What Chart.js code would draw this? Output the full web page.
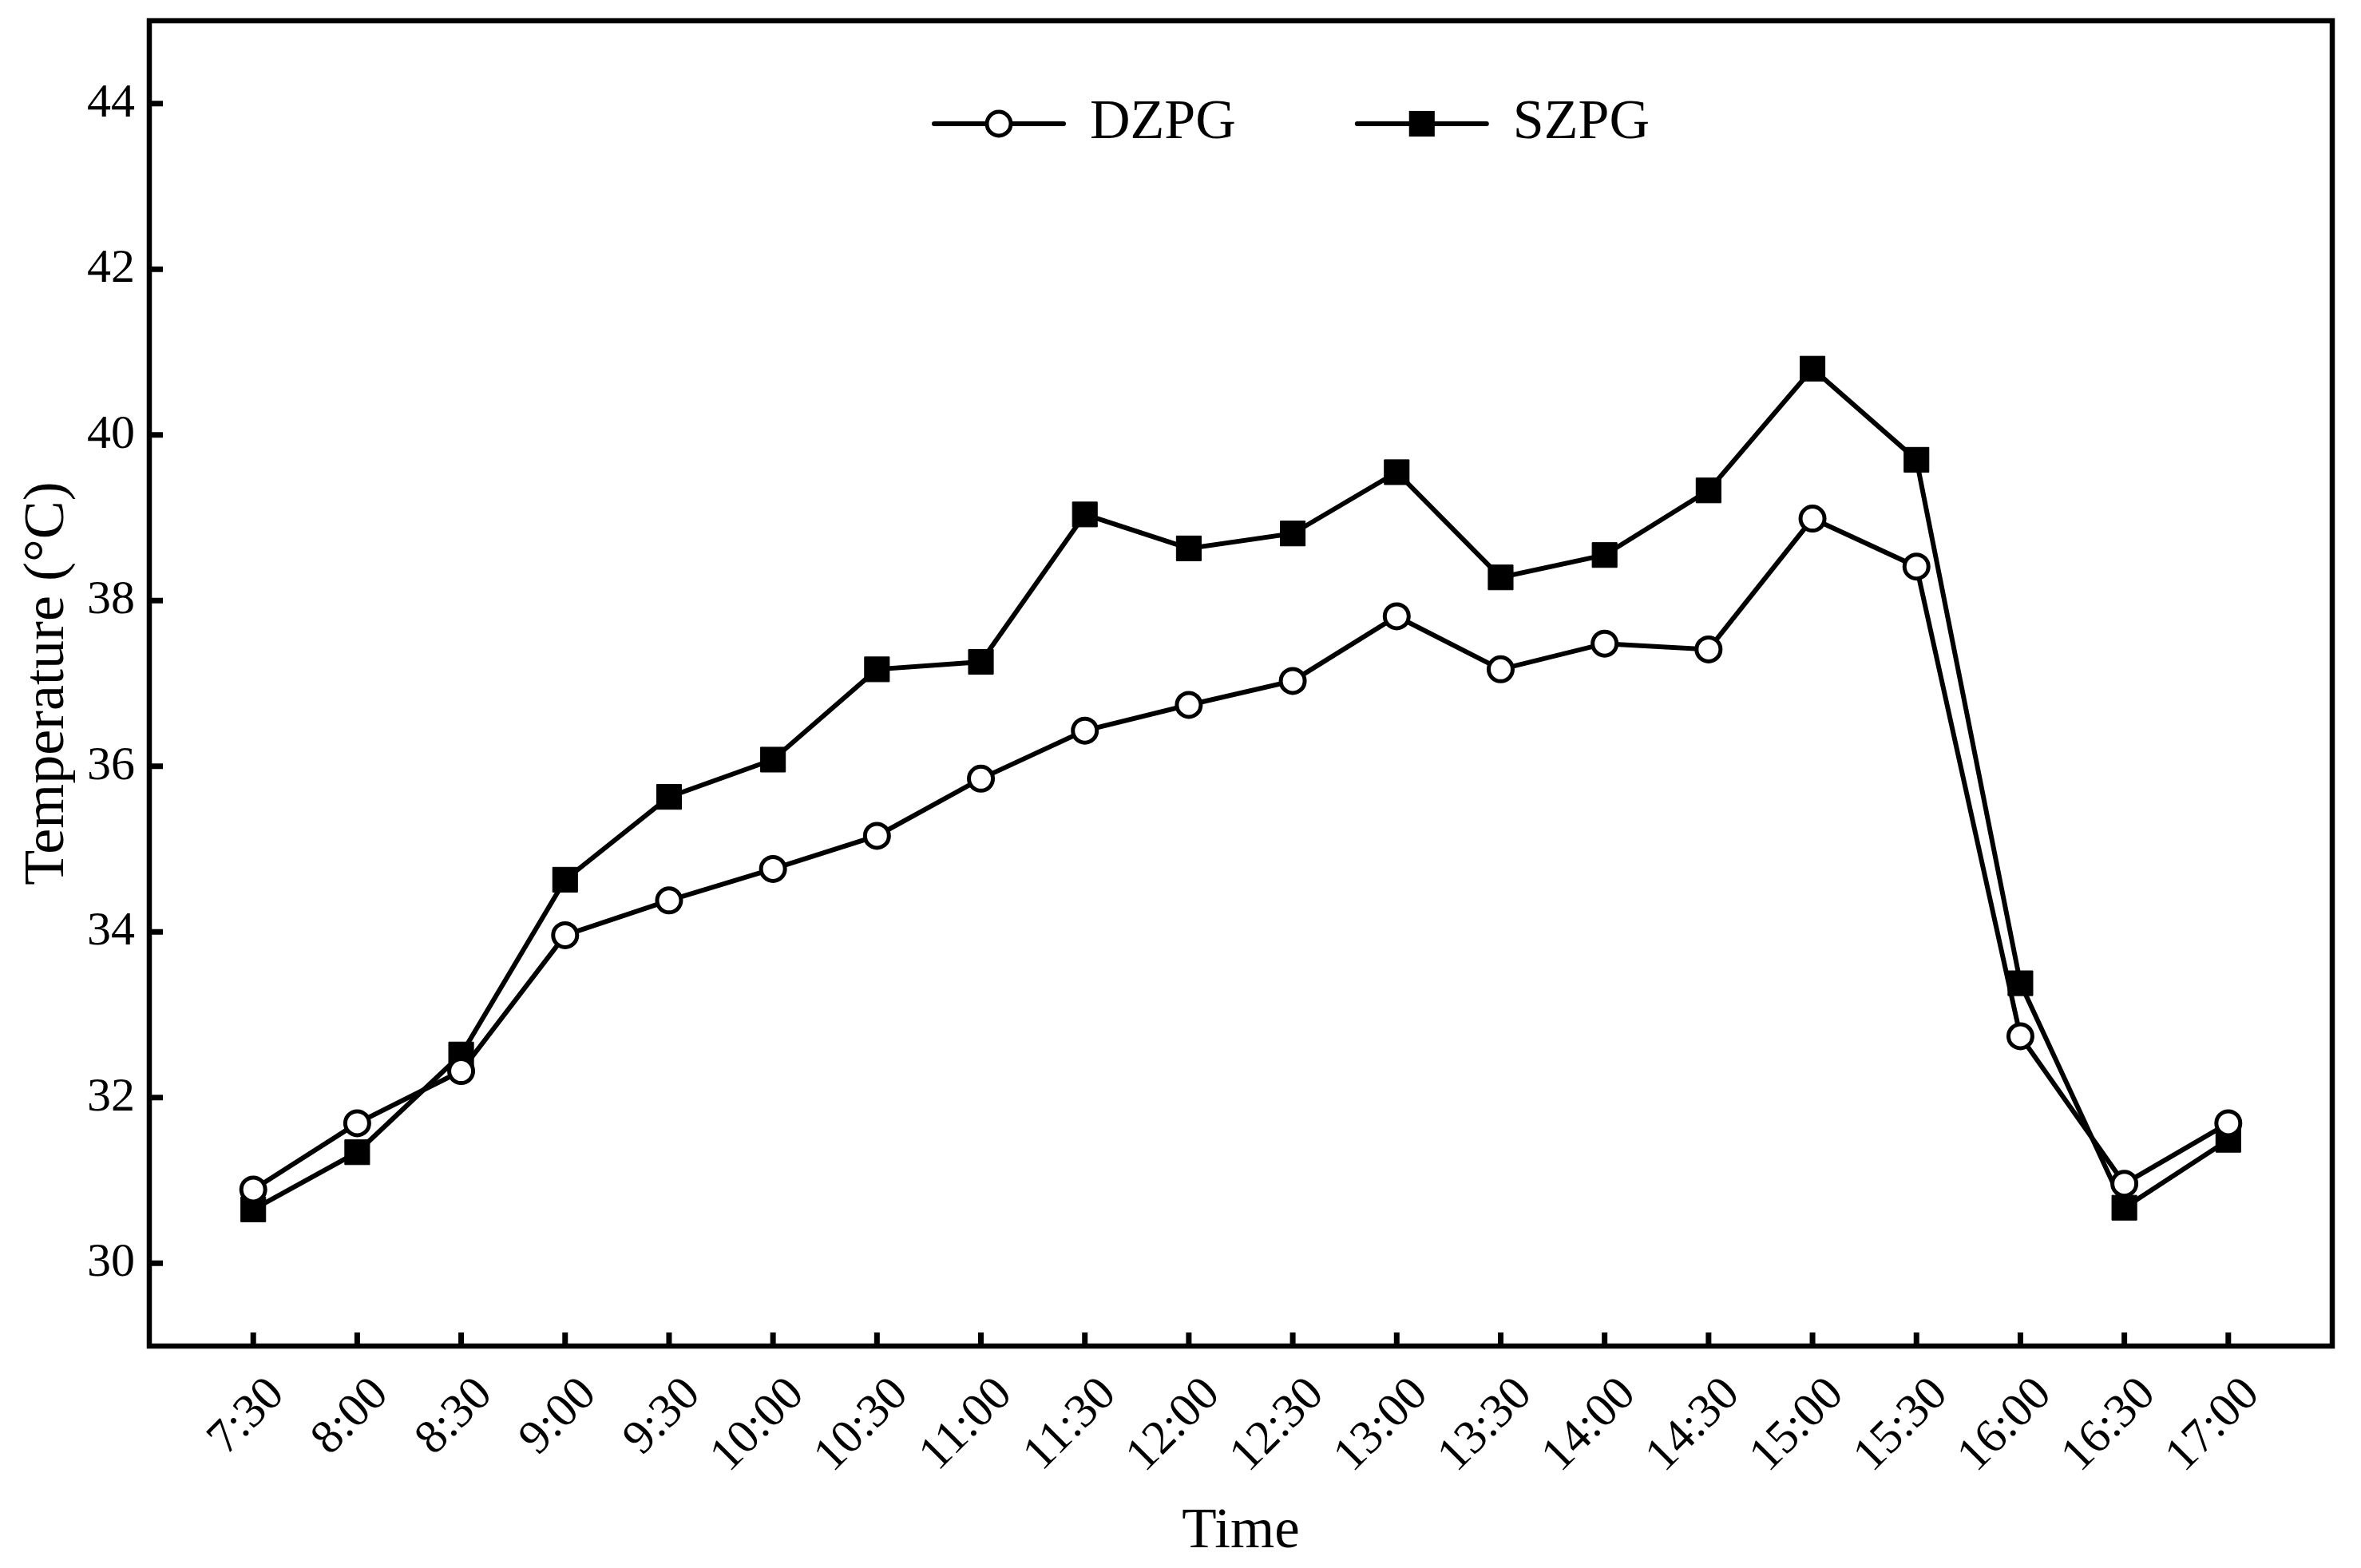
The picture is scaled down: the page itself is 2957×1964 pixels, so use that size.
<!DOCTYPE html>
<html>
<head>
<meta charset="utf-8">
<script src="https://cdn.jsdelivr.net/npm/chart.js@4.4.0/dist/chart.umd.min.js"></script>
<style>
html, body { margin: 0; padding: 0; background: #fff; }
</style>
</head>
<body>
<canvas id="myChart" width="2957" height="1964"></canvas>
<script>
// datos
var horas = ['7:30', '8:00', '8:30', '9:00', '9:30', '10:00', '10:30', '11:00', '11:30', '12:00',
             '12:30', '13:00', '13:30', '14:00', '14:30', '15:00', '15:30', '16:00', '16:30', '17:00'];
var dzpg = [30.89, 31.69, 32.32, 33.96, 34.38, 34.76, 35.16, 35.85, 36.43, 36.74,
            37.03, 37.81, 37.17, 37.48, 37.41, 38.99, 38.41, 32.74, 30.96, 31.69];
var szpg = [30.65, 31.34, 32.52, 34.63, 35.63, 36.08, 37.17, 37.26, 39.04, 38.63,
            38.81, 39.55, 38.28, 38.55, 39.33, 40.80, 39.70, 33.38, 30.67, 31.49];
var ticksY = [30, 32, 34, 36, 38, 40, 42, 44];
var nombres = ['DZPG', 'SZPG'];

var fuente = '"Liberation Serif", "Times New Roman", serif';

function puntos(serie) {
    var out = [];
    for (var i = 0; i < serie.length; i++) {
        out.push({x: i, y: serie[i]});
    }
    return out;
}

// marco + marcas hacia adentro
const marco = {
    id: 'marco',
    afterDraw(chart) {
        const ctx = chart.ctx;
        const a = chart.chartArea;
        ctx.save();
        ctx.strokeStyle = '#000';
        ctx.lineWidth = 7;
        ctx.lineCap = 'butt';
        const sx = chart.scales.x;
        sx.ticks.forEach(function(t) {
            const px = sx.getPixelForValue(t.value);
            ctx.beginPath();
            ctx.moveTo(px, a.bottom);
            ctx.lineTo(px, a.bottom - 17);
            ctx.stroke();
        });
        const sy = chart.scales.y;
        sy.ticks.forEach(function(t) {
            const py = sy.getPixelForValue(t.value);
            ctx.beginPath();
            ctx.moveTo(a.left, py);
            ctx.lineTo(a.left + 17, py);
            ctx.stroke();
        });
        ctx.lineWidth = 6.5;
        ctx.lineJoin = 'miter';
        ctx.strokeRect(a.left, a.top, a.right - a.left, a.bottom - a.top);
        ctx.restore();
    }
};

// leyenda dentro del area
const leyenda = {
    id: 'leyenda',
    afterDraw(chart) {
        const ctx = chart.ctx;
        const a = chart.chartArea;
        const y = a.top + 129;
        let x = a.left + 983;
        ctx.save();
        ctx.font = '70px ' + fuente;
        ctx.textBaseline = 'middle';
        ctx.textAlign = 'left';
        chart.data.datasets.forEach(function(ds) {
            ctx.strokeStyle = '#000';
            ctx.lineWidth = 6;
            ctx.lineCap = 'round';
            ctx.beginPath();
            ctx.moveTo(x, y);
            ctx.lineTo(x + 162, y);
            ctx.stroke();
            const cx = x + 81;
            if (ds.pointStyle === 'circle') {
                ctx.beginPath();
                ctx.arc(cx, y, ds.pointRadius, 0, Math.PI * 2);
                ctx.fillStyle = '#fff';
                ctx.fill();
                ctx.lineWidth = ds.pointBorderWidth;
                ctx.stroke();
            } else {
                const s = ds.pointRadius * Math.SQRT1_2 + 0.5;
                ctx.fillStyle = '#000';
                ctx.fillRect(cx - s, y - s, 2 * s, 2 * s);
            }
            ctx.fillStyle = '#000';
            ctx.fillText(ds.label, x + 195, y);
            x += 195 + ctx.measureText(ds.label).width + 152;
        });
        ctx.restore();
    }
};

const ctx = document.getElementById('myChart').getContext('2d');
const myChart = new Chart(ctx, {
    type: 'line',
    data: {
        datasets: [{
            label: nombres[0],
            data: puntos(dzpg),
            borderColor: '#000',
            borderWidth: 6,
            pointStyle: 'circle',
            pointRadius: 15,
            pointBorderWidth: 5,
            pointBackgroundColor: '#fff',
            pointBorderColor: '#000',
            tension: 0
        }, {
            label: nombres[1],
            data: puntos(szpg),
            borderColor: '#000',
            borderWidth: 6,
            pointStyle: 'rect',
            pointRadius: 22,
            pointBorderWidth: 1,
            pointBackgroundColor: '#000',
            pointBorderColor: '#000',
            tension: 0
        }]
    },
    options: {
        responsive: false,
        animation: false,
        layout: { padding: { left: 0, top: 26, right: 36, bottom: 0 } },
        plugins: {
            legend: { display: false },
            tooltip: { enabled: false }
        },
        scales: {
            x: {
                type: 'linear',
                min: -1,
                max: 20,
                afterBuildTicks: function(s) {
                    s.ticks = horas.map(function(h, i) { return {value: i}; });
                },
                afterFit: function(s) {
                    s.height = 278;
                    s.paddingLeft = 0;
                    s.paddingRight = 0;
                },
                grid: { display: false, drawTicks: false },
                border: { display: false },
                ticks: {
                    autoSkip: false,
                    minRotation: 45,
                    maxRotation: 45,
                    padding: 26,
                    labelOffset: 30,
                    color: '#000',
                    font: { family: fuente, size: 60 },
                    callback: function(v) { return horas[v]; }
                },
                title: {
                    display: true,
                    text: 'Time',
                    color: '#000',
                    font: { family: fuente, size: 71 },
                    padding: { top: 0, bottom: 2 }
                }
            },
            y: {
                min: 29,
                max: 45,
                afterBuildTicks: function(s) {
                    s.ticks = ticksY.map(function(v) { return {value: v}; });
                },
                afterFit: function(s) {
                    s.width = 187;
                    s.paddingTop = 0;
                    s.paddingBottom = 0;
                },
                grid: { display: false, drawTicks: false },
                border: { display: false },
                ticks: {
                    padding: 18,
                    color: '#000',
                    font: { family: fuente, size: 60 }
                },
                title: {
                    display: true,
                    text: 'Temperature (°C)',
                    color: '#000',
                    font: { family: fuente, size: 72 },
                    padding: { top: 17, bottom: 0 }
                }
            }
        }
    },
    plugins: [marco, leyenda]
});
</script>
</body>
</html>
